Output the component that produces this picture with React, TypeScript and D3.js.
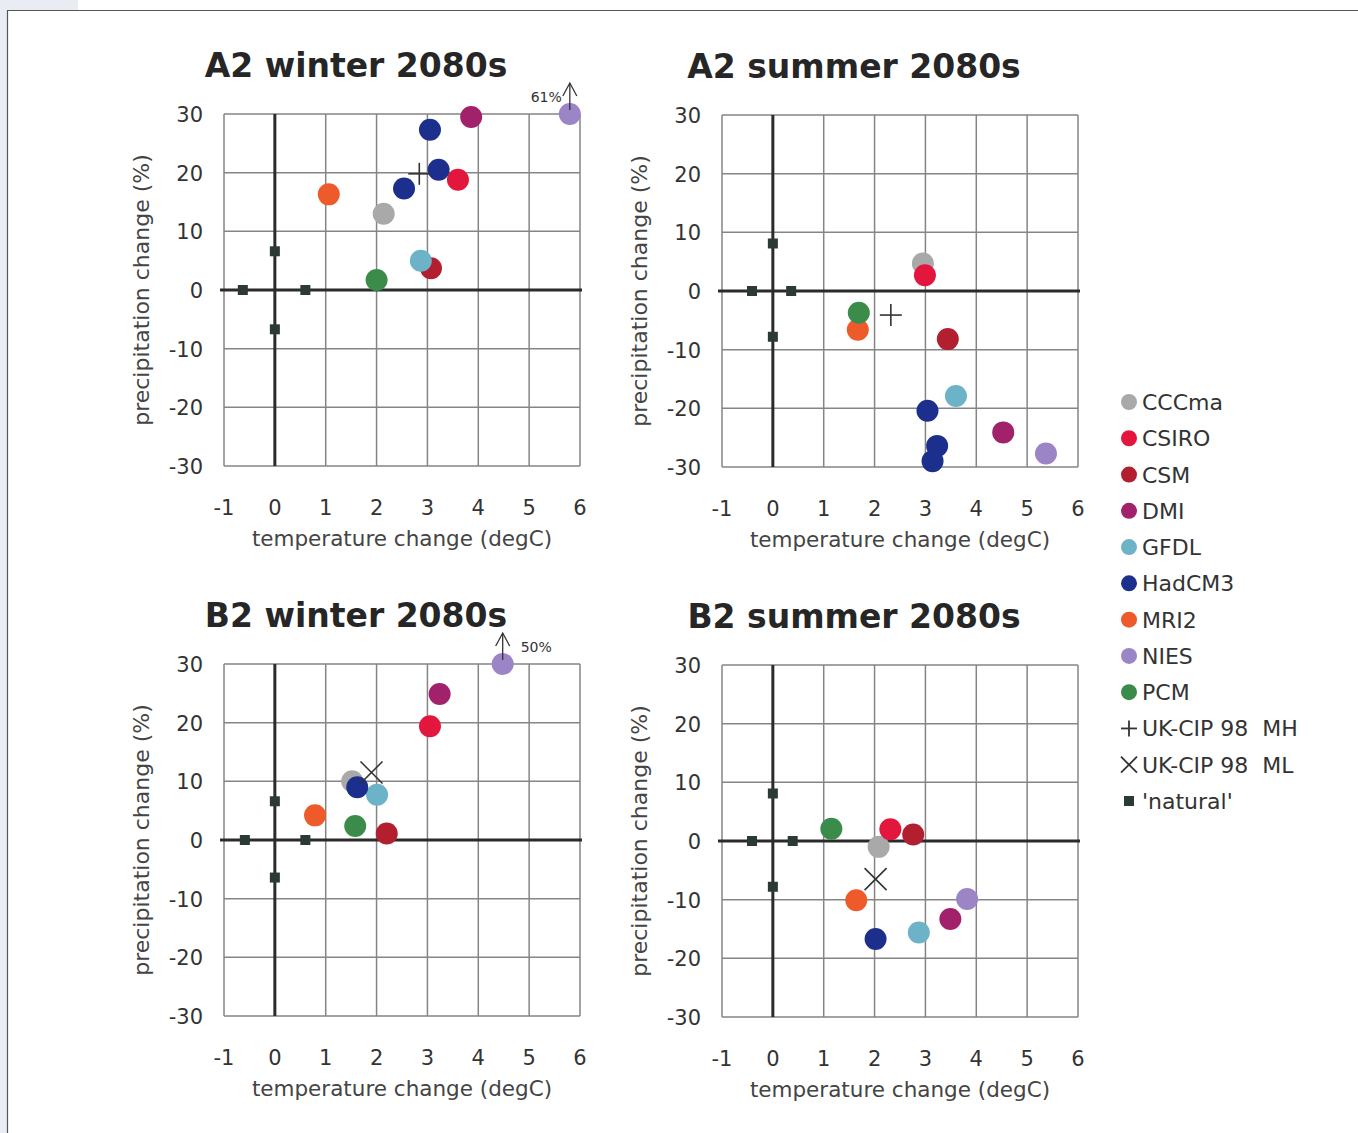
import React from "react";
import * as d3 from "d3";

// ---------- data ----------
const models = ["CCCma", "CSIRO", "CSM", "DMI", "GFDL", "HadCM3", "MRI2", "NIES", "PCM"];
const modelColors = ["#a9a9a9", "#e3163d", "#b2202f", "#a2216b", "#6cb3c7", "#1d2f8d", "#ef5a2b", "#9b85c7", "#3b8c4b"];

const xTicks = [-1, 0, 1, 2, 3, 4, 5, 6];
const yTicks = [30, 20, 10, 0, -10, -20, -30];

// [model, temperature change, precipitation change]
const a2Winter: [string, number, number][] = [
  ["CCCma", 2.14, 13.0],
  ["CSIRO", 3.6, 18.8],
  ["CSM", 3.07, 3.7],
  ["DMI", 3.86, 29.5],
  ["GFDL", 2.87, 5.0],
  ["HadCM3", 2.54, 17.3],
  ["HadCM3", 3.05, 27.3],
  ["HadCM3", 3.22, 20.5],
  ["MRI2", 1.06, 16.3],
  ["NIES", 5.8, 30],
  ["PCM", 2.0, 1.7],
];
const a2Summer: [string, number, number][] = [
  ["CCCma", 2.95, 4.7],
  ["CSIRO", 2.99, 2.7],
  ["CSM", 3.44, -8.2],
  ["DMI", 4.53, -24.1],
  ["GFDL", 3.6, -17.9],
  ["HadCM3", 3.04, -20.4],
  ["HadCM3", 3.23, -26.4],
  ["HadCM3", 3.14, -29.0],
  ["MRI2", 1.67, -6.6],
  ["NIES", 5.37, -27.7],
  ["PCM", 1.69, -3.7],
];
const b2Winter: [string, number, number][] = [
  ["CCCma", 1.52, 10.0],
  ["CSIRO", 3.05, 19.4],
  ["CSM", 2.2, 1.1],
  ["DMI", 3.24, 24.9],
  ["GFDL", 2.01, 7.7],
  ["HadCM3", 1.62, 9.0],
  ["MRI2", 0.79, 4.2],
  ["NIES", 4.48, 30],
  ["PCM", 1.58, 2.4],
];
const b2Summer: [string, number, number][] = [
  ["CCCma", 2.08, -1.0],
  ["CSIRO", 2.31, 2.0],
  ["CSM", 2.76, 1.1],
  ["DMI", 3.49, -13.3],
  ["GFDL", 2.87, -15.6],
  ["HadCM3", 2.02, -16.7],
  ["MRI2", 1.64, -10.1],
  ["NIES", 3.82, -9.9],
  ["PCM", 1.15, 2.1],
];

// UK-CIP 98 scenario markers
const a2WinterUkcip: [number, number] = [2.84, 19.8];
const a2SummerUkcip: [number, number] = [2.32, -4.1];
const b2WinterUkcip: [number, number] = [1.9, 11.5];
const b2SummerUkcip: [number, number] = [2.02, -6.5];

// 'natural' variability squares
const a2WinterNatural: [number, number][] = [[-0.63, 0], [0.6, 0], [0, 6.6], [0, -6.7]];
const a2SummerNatural: [number, number][] = [[-0.41, 0], [0.36, 0], [0, 8.1], [0, -7.8]];
const b2WinterNatural: [number, number][] = [[-0.59, 0], [0.6, 0], [0, 6.6], [0, -6.4]];
const b2SummerNatural: [number, number][] = [[-0.41, 0], [0.39, 0], [0, 8.1], [0, -7.8]];

const legendLabels = [...models, "UK-CIP 98  MH", "UK-CIP 98  ML", "'natural'"];

const FONT = "'DejaVu Sans', Verdana, sans-serif";
const colorOf = (m: string) => modelColors[models.indexOf(m)];

type PanelProps = {
  title: string;
  left: number;
  top: number;
  points: [string, number, number][];
  ukcip: [number, number];
  ukType: "plus" | "cross";
  natural: [number, number][];
  overflow?: { label: string; side: "left" | "right" };
};

const W = 356;
const H = 352;

function Panel({ title, left, top, points, ukcip, ukType, natural, overflow }: PanelProps) {
  const x = d3.scaleLinear().domain([-1, 6]).range([0, W]);
  const y = d3.scaleLinear().domain([-30, 30]).range([H, 0]);
  const grid = "#858585";
  const axisCol = "#2b2b2b";
  const nies = points.find((p) => p[0] === "NIES")!;
  return (
    <g transform={`translate(${left},${top})`}>
      <text x={132} y={-37} textAnchor="middle" fontFamily={FONT} fontWeight="bold" fontSize={33} fill="#262626">
        {title}
      </text>
      {/* grid */}
      {xTicks.map((t) => (
        <line key={"gx" + t} x1={x(t)} x2={x(t)} y1={0} y2={H} stroke={grid} strokeWidth={1.5} />
      ))}
      {yTicks.map((t) => (
        <line key={"gy" + t} x1={0} x2={W} y1={y(t)} y2={y(t)} stroke={grid} strokeWidth={1.5} />
      ))}
      {/* zero axes */}
      <line x1={x(0)} x2={x(0)} y1={0} y2={H} stroke={axisCol} strokeWidth={3} />
      <line x1={-4} x2={W + 2} y1={y(0)} y2={y(0)} stroke={axisCol} strokeWidth={3} />
      {/* tick labels */}
      {xTicks.map((t) => (
        <text key={"tx" + t} x={x(t)} y={H + 49} textAnchor="middle" fontFamily={FONT} fontSize={21} fill="#333">
          {t}
        </text>
      ))}
      {yTicks.map((t) => (
        <text key={"ty" + t} x={-21} y={y(t) + 8} textAnchor="end" fontFamily={FONT} fontSize={21} fill="#333">
          {t}
        </text>
      ))}
      <text x={W / 2} y={H + 80} textAnchor="middle" fontFamily={FONT} fontSize={21.5} fill="#444">
        temperature change (degC)
      </text>
      <text
        transform={`translate(${-75},${H / 2}) rotate(-90)`}
        textAnchor="middle"
        fontFamily={FONT}
        fontSize={22}
        fill="#444"
      >
        precipitation change (%)
      </text>
      {/* natural squares */}
      {natural.map(([t, p], i) => (
        <rect key={"n" + i} x={x(t) - 5} y={y(p) - 5} width={10} height={10} fill="#2b3a33" />
      ))}
      {/* model points */}
      {points.map(([m, t, p], i) => (
        <circle key={"p" + i} cx={x(t)} cy={y(p)} r={11} fill={colorOf(m)} />
      ))}
      {/* UK-CIP marker */}
      {ukType === "plus" ? (
        <g stroke="#333" strokeWidth={1.6}>
          <line x1={x(ukcip[0]) - 11} x2={x(ukcip[0]) + 11} y1={y(ukcip[1])} y2={y(ukcip[1])} />
          <line x1={x(ukcip[0])} x2={x(ukcip[0])} y1={y(ukcip[1]) - 11} y2={y(ukcip[1]) + 11} />
        </g>
      ) : (
        <g stroke="#333" strokeWidth={1.6}>
          <line x1={x(ukcip[0]) - 11} x2={x(ukcip[0]) + 11} y1={y(ukcip[1]) - 11} y2={y(ukcip[1]) + 11} />
          <line x1={x(ukcip[0]) - 11} x2={x(ukcip[0]) + 11} y1={y(ukcip[1]) + 11} y2={y(ukcip[1]) - 11} />
        </g>
      )}
      {overflow && (
        <g>
          <g stroke="#333" strokeWidth={1.3} fill="none">
            <line x1={x(nies[1])} x2={x(nies[1])} y1={y(nies[2]) - 4} y2={y(nies[2]) - 31} />
            <polyline
              points={`${x(nies[1]) - 7},${y(nies[2]) - 18} ${x(nies[1])},${y(nies[2]) - 31} ${x(nies[1]) + 7},${y(nies[2]) - 18}`}
            />
          </g>
          <text
            x={overflow.side === "left" ? x(nies[1]) - 8 : x(nies[1]) + 18}
            y={y(nies[2]) - 12}
            textAnchor={overflow.side === "left" ? "end" : "start"}
            fontFamily={FONT}
            fontSize={14}
            fill="#333"
          >
            {overflow.label}
          </text>
        </g>
      )}
    </g>
  );
}

function Legend() {
  const ly = d3.scaleLinear().domain([0, legendLabels.length - 1]).range([402, 801]);
  const mx = 1129;
  return (
    <g>
      {legendLabels.map((lab, i) => {
        const cy = ly(i);
        let marker: React.ReactNode;
        if (i < models.length) {
          marker = <circle cx={mx} cy={cy} r={8} fill={modelColors[i]} />;
        } else if (i === models.length) {
          marker = (
            <g stroke="#333" strokeWidth={1.8}>
              <line x1={mx - 8} x2={mx + 8} y1={cy} y2={cy} />
              <line x1={mx} x2={mx} y1={cy - 8} y2={cy + 8} />
            </g>
          );
        } else if (i === models.length + 1) {
          marker = (
            <g stroke="#333" strokeWidth={1.8}>
              <line x1={mx - 8} x2={mx + 8} y1={cy - 8} y2={cy + 8} />
              <line x1={mx - 8} x2={mx + 8} y1={cy + 8} y2={cy - 8} />
            </g>
          );
        } else {
          marker = <rect x={mx - 5} y={cy - 5} width={10} height={10} fill="#2b3a33" />;
        }
        return (
          <g key={lab}>
            {marker}
            <text x={1142} y={cy + 8} fontFamily={FONT} fontSize={22} fill="#333" xmlSpace="preserve">
              {lab}
            </text>
          </g>
        );
      })}
    </g>
  );
}

export default function App() {
  return (
    <svg
      width={1358}
      height={1133}
      style={{ position: "absolute", left: 0, top: 0, background: "#fff" }}
    >
      <rect x={0} y={0} width={1358} height={1133} fill="#fff" />
      <rect x={0} y={0} width={78} height={10} fill="#e9edf3" />
      <rect x={0} y={0} width={7} height={1133} fill="#e9edf3" />
      <line x1={7} x2={1358} y1={10.5} y2={10.5} stroke="#555" strokeWidth={1.2} />
      <line x1={7.5} x2={7.5} y1={10} y2={1133} stroke="#555" strokeWidth={1.2} />
      <Panel
        title="A2 winter 2080s"
        left={224}
        top={114}
        points={a2Winter}
        ukcip={a2WinterUkcip}
        ukType="plus"
        natural={a2WinterNatural}
        overflow={{ label: "61%", side: "left" }}
      />
      <Panel
        title="A2 summer 2080s"
        left={722}
        top={115}
        points={a2Summer}
        ukcip={a2SummerUkcip}
        ukType="plus"
        natural={a2SummerNatural}
      />
      <Panel
        title="B2 winter 2080s"
        left={224}
        top={664}
        points={b2Winter}
        ukcip={b2WinterUkcip}
        ukType="cross"
        natural={b2WinterNatural}
        overflow={{ label: "50%", side: "right" }}
      />
      <Panel
        title="B2 summer 2080s"
        left={722}
        top={665}
        points={b2Summer}
        ukcip={b2SummerUkcip}
        ukType="cross"
        natural={b2SummerNatural}
      />
      <Legend />
    </svg>
  );
}
